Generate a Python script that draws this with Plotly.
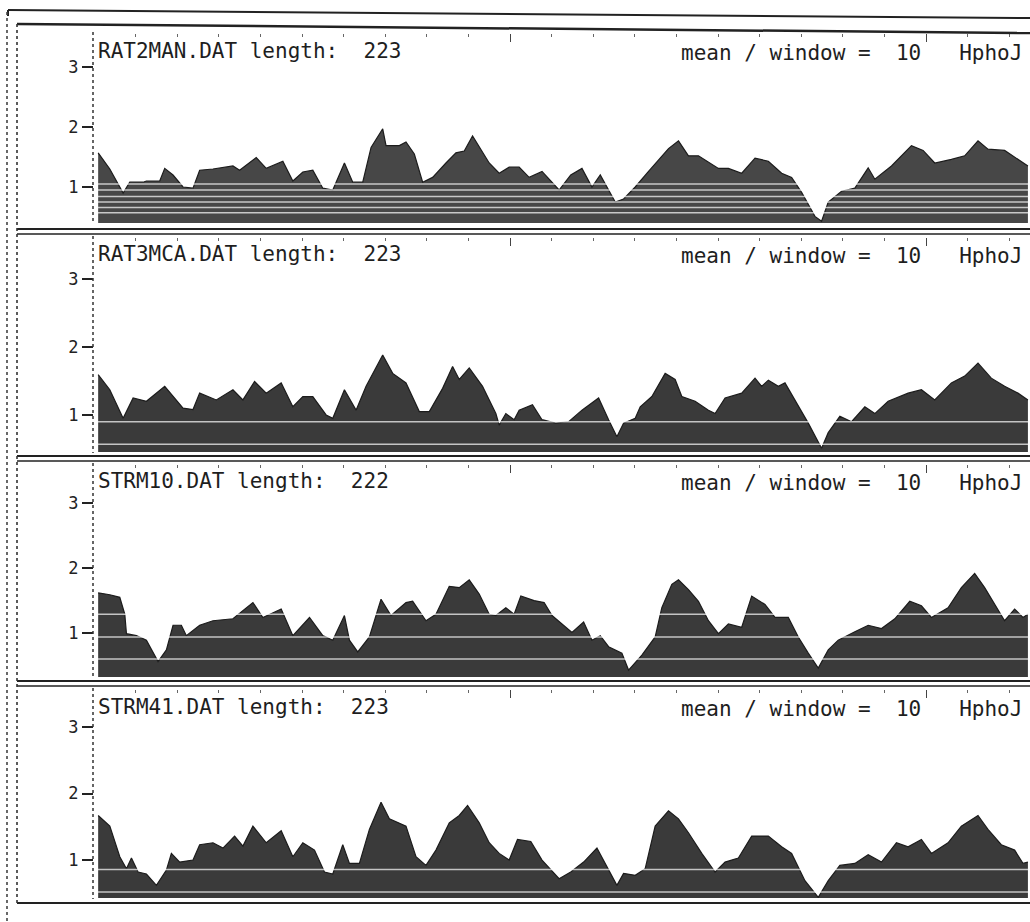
import plotly.graph_objects as go

# ---------------- data (residue position, mean hydrophobicity, window = 10) -------------
names = ["RAT2MAN.DAT", "RAT3MCA.DAT", "STRM10.DAT", "STRM41.DAT"]
lengths = [223, 223, 222, 223]

pos_rat2man = [1, 3.8, 7.0, 8.6, 11.8, 12.6, 15.8, 17.0, 19.0, 21.4, 23.8, 25.4, 28.6, 33.4, 35.0,
               39.0, 41.4, 45.4, 47.8, 50.2, 52.6, 55.0, 57.4, 60.2, 62.2, 64.6, 66.6, 69.4, 70.2,
               73.4, 75.0, 77.0, 79.0, 81.4, 84.6, 87.0, 89.0, 91.0, 95.0, 97.4, 99.8, 102.2,
               104.6, 107.7, 111.8, 114.6, 117.3, 119.7, 121.7, 123.7, 125.3, 127.3, 130.1, 133.3,
               136.5, 138.1, 140.5, 142.9, 145.3, 150.1, 152.5, 155.7, 158.9, 162.1, 165.3, 167.7,
               170.1, 173.3, 174.9, 176.5, 179.7, 182.9, 186.1, 187.7, 191.7, 196.5, 199.3, 202.1,
               206.1, 209.3, 212.5, 214.9, 218.9, 222.1, 224.5]
val_rat2man = [1.57, 1.30, 0.90, 1.08, 1.08, 1.10, 1.10, 1.31, 1.20, 1.00, 0.98, 1.28, 1.30, 1.35, 1.28,
               1.49, 1.31, 1.43, 1.10, 1.25, 1.28, 0.98, 0.95, 1.40, 1.08, 1.08, 1.66, 1.97, 1.69,
               1.69, 1.75, 1.55, 1.08, 1.16, 1.40, 1.57, 1.60, 1.85, 1.40, 1.23, 1.33, 1.33,
               1.16, 1.26, 0.95, 1.20, 1.31, 1.00, 1.20, 0.95, 0.75, 0.80, 1.00, 1.26,
               1.52, 1.64, 1.77, 1.52, 1.52, 1.31, 1.31, 1.23, 1.48, 1.43, 1.23, 1.16,
               0.91, 0.51, 0.43, 0.75, 0.93, 0.98, 1.32, 1.13, 1.35, 1.69, 1.61, 1.40,
               1.46, 1.52, 1.77, 1.63, 1.61, 1.46, 1.35]

pos_rat3mca = [1, 3.8, 7.0, 9.4, 12.6, 17.0, 21.4, 23.8, 25.4, 29.4, 33.4, 35.8, 38.6, 41.4, 45.0,
               47.8, 50.2, 52.6, 55.8, 57.4, 60.2, 63.0, 65.4, 69.4, 71.8, 75.0, 78.2, 80.6, 83.8,
               86.2, 87.8, 90.2, 93.4, 96.6, 97.4, 99.0, 101.0, 102.2, 105.4, 107.7, 111.0, 114.1,
               117.3, 121.3, 123.7, 125.7, 127.3, 130.1, 131.3, 134.1, 137.3, 139.7, 141.3, 144.5,
               147.7, 149.3, 151.7, 155.7, 158.9, 160.5, 162.1, 164.5, 166.1, 168.5, 171.7, 174.9,
               176.5, 179.3, 182.1, 185.3, 187.7, 190.9, 195.7, 198.9, 202.1, 206.1, 209.3, 212.5,
               215.7, 218.9, 222.1, 224.5]
val_rat3mca = [1.59, 1.37, 0.95, 1.25, 1.20, 1.42, 1.10, 1.08, 1.32, 1.22, 1.37, 1.22, 1.49, 1.32, 1.47,
               1.12, 1.27, 1.27, 1.00, 0.95, 1.37, 1.07, 1.42, 1.88, 1.61, 1.47, 1.05, 1.05, 1.39,
               1.71, 1.52, 1.69, 1.42, 1.02, 0.85, 1.02, 0.93, 1.07, 1.15, 0.93, 0.88, 0.90,
               1.07, 1.25, 0.93, 0.68, 0.88, 0.95, 1.12, 1.27, 1.61, 1.52, 1.27, 1.20,
               1.07, 1.02, 1.25, 1.32, 1.54, 1.42, 1.51, 1.42, 1.47, 1.22, 0.88, 0.51,
               0.74, 0.98, 0.90, 1.12, 1.02, 1.20, 1.32, 1.37, 1.22, 1.47, 1.57, 1.76,
               1.54, 1.42, 1.32, 1.22]

pos_strm10 = [1, 3.8, 6.2, 7.4, 7.8, 10.2, 12.6, 15.4, 17.4, 19.0, 21.0, 22.2, 25.4, 28.6, 33.4,
              38.2, 40.6, 45.0, 47.8, 51.8, 55.0, 57.4, 60.2, 61.4, 63.4, 66.2, 69.0, 71.4, 75.0,
              76.6, 79.8, 82.2, 85.4, 87.8, 90.2, 92.6, 95.0, 96.6, 99.0, 101.0, 102.6, 105.8,
              108.2, 110.1, 112.5, 114.9, 117.7, 119.7, 121.7, 123.7, 126.9, 128.5, 131.7, 134.9,
              136.5, 138.9, 140.5, 142.9, 145.3, 147.7, 150.1, 152.5, 155.7, 158.1, 161.3, 163.7,
              166.9, 169.3, 171.7, 174.1, 176.5, 178.9, 182.9, 186.1, 189.3, 192.5, 196.1, 198.9,
              201.3, 205.3, 208.5, 211.7, 214.1, 216.5, 218.9, 221.3, 223.3, 224.5]
val_strm10 = [1.62, 1.59, 1.55, 1.29, 0.99, 0.96, 0.89, 0.56, 0.74, 1.12, 1.12, 0.96, 1.12, 1.19, 1.22,
              1.47, 1.24, 1.37, 0.96, 1.24, 0.96, 0.89, 1.27, 0.89, 0.71, 0.94, 1.52, 1.27, 1.47,
              1.49, 1.19, 1.29, 1.72, 1.70, 1.82, 1.60, 1.29, 1.27, 1.39, 1.29, 1.57, 1.50,
              1.47, 1.27, 1.14, 1.01, 1.17, 0.89, 0.96, 0.79, 0.69, 0.43, 0.66, 0.94,
              1.39, 1.75, 1.82, 1.67, 1.49, 1.19, 0.99, 1.14, 1.09, 1.57, 1.44, 1.24,
              1.24, 0.94, 0.69, 0.46, 0.74, 0.89, 1.02, 1.12, 1.07, 1.22, 1.49, 1.42,
              1.24, 1.39, 1.70, 1.92, 1.70, 1.44, 1.19, 1.37, 1.24, 1.29]

pos_strm41 = [1, 3.8, 6.2, 7.8, 9.0, 10.6, 12.6, 15.0, 17.4, 18.6, 20.6, 23.8, 25.4, 28.6, 31.0,
              33.8, 35.8, 38.2, 41.4, 45.0, 47.8, 50.2, 53.0, 55.4, 57.4, 59.8, 61.4, 63.8, 66.2,
              69.0, 71.0, 75.0, 77.4, 79.8, 82.2, 85.4, 87.8, 89.8, 92.6, 95.0, 97.4, 99.8, 101.8,
              105.0, 107.7, 111.8, 114.6, 117.7, 120.9, 123.7, 125.7, 127.3, 130.1, 132.5, 134.9,
              138.1, 140.5, 142.9, 146.1, 149.3, 151.7, 154.9, 158.1, 162.1, 165.3, 167.7, 170.9,
              174.1, 176.5, 179.3, 182.9, 186.1, 189.3, 192.9, 195.7, 198.9, 201.3, 205.3, 208.5,
              212.5, 214.9, 218.1, 221.3, 223.3, 224.5]
val_strm41 = [1.67, 1.51, 1.05, 0.87, 1.03, 0.82, 0.79, 0.62, 0.85, 1.10, 0.97, 1.00, 1.23, 1.26, 1.18,
              1.36, 1.21, 1.51, 1.26, 1.44, 1.05, 1.26, 1.15, 0.82, 0.79, 1.23, 0.95, 0.95, 1.46,
              1.87, 1.62, 1.51, 1.05, 0.92, 1.15, 1.56, 1.67, 1.82, 1.56, 1.26, 1.10, 1.00, 1.31,
              1.28, 1.00, 0.72, 0.82, 0.97, 1.18, 0.85, 0.62, 0.80, 0.77, 0.87, 1.51,
              1.74, 1.62, 1.41, 1.10, 0.82, 0.97, 1.03, 1.36, 1.36, 1.20, 1.10, 0.69,
              0.44, 0.69, 0.92, 0.95, 1.08, 0.97, 1.26, 1.20, 1.31, 1.10, 1.26, 1.51,
              1.67, 1.46, 1.23, 1.15, 0.95, 0.97]

positions = [pos_rat2man, pos_rat3mca, pos_strm10, pos_strm41]
values = [val_rat2man, val_rat3mca, val_strm10, val_strm41]
y_ticks = [1, 2, 3]
window = 10
scale_name = "HphoJ"

# ---------------- layout helpers (pixels of the 1030 x 922 page) ----------------
W, H = 1030, 922
def px(x):
    return x / W
def py(y):
    return 1 - y / H

panel_px = [(40, 223), (248, 452), (474, 677), (697, 898)]
y_low = [0.40, 0.456, 0.323, 0.43]
y_high = 3.45
label_row = [51, 254, 481, 707]
top_border = [29, 233, 460, 685]
fills = ["#474747", "#3a3a3a", "#3a3a3a", "#3a3a3a"]
streaks = [[0.57, 0.66, 0.75, 0.84, 0.95, 1.05], [0.57, 0.90], [0.60, 0.94, 1.29], [0.52, 0.86]]

fig = go.Figure()
shapes = []
annotations = []
mono = "DejaVu Sans Mono"

for i in range(4):
    xa = "x" if i == 0 else f"x{i+1}"
    ya = "y" if i == 0 else f"y{i+1}"
    fig.add_trace(go.Scatter(
        x=positions[i], y=values[i], mode="lines", fill="tozeroy",
        line=dict(color="#1c1c1c", width=1.2), fillcolor=fills[i],
        xaxis=xa, yaxis=ya, showlegend=False, hoverinfo="skip"))
    t, b = panel_px[i]
    xkey = "xaxis" if i == 0 else f"xaxis{i+1}"
    ykey = "yaxis" if i == 0 else f"yaxis{i+1}"
    fig.update_layout({
        xkey: dict(domain=[px(94), 1], range=[0, 225], anchor="free",
                   position=py(top_border[i] + 4), side="top",
                   showgrid=False, zeroline=False, showline=False,
                   showticklabels=False, ticks="inside", tickmode="linear",
                   tick0=0, dtick=100, ticklen=8, tickwidth=1.3, tickcolor="#444",
                   minor=dict(ticks="inside", dtick=10, tick0=0, ticklen=3,
                              tickwidth=1.3, tickcolor="#666"),
                   fixedrange=True),
        ykey: dict(domain=[py(b), py(t)], range=[y_low[i], y_high], anchor=xa,
                   showgrid=False, zeroline=False, showline=False,
                   tickvals=y_ticks, ticks="outside", ticklen=11, tickwidth=1.5,
                   tickcolor="#222", tickfont=dict(family=mono, size=17, color="#222"),
                   fixedrange=True),
    })
    for s in streaks[i]:
        shapes.append(dict(type="line", xref=xa, yref=ya, x0=0.3, x1=225, y0=s, y1=s,
                           line=dict(color="rgba(255,255,255,0.7)", width=1.5), layer="above"))
    shapes.append(dict(type="line", xref="paper", yref="paper", x0=px(93), x1=px(93),
                       y0=py(top_border[i] + 3), y1=py(b + 1),
                       line=dict(color="#333", width=1.5, dash="dot")))
    label = f"{names[i]} length:\u00a0\u00a0{lengths[i]}"
    annotations.append(dict(x=px(96), y=py(label_row[i]), xref="paper", yref="paper",
                            text=label, showarrow=False, xanchor="left", yanchor="middle",
                            font=dict(family=mono, size=21, color="#1e1e1e")))
    right = f"mean / window =\u00a0\u00a0{window}\u00a0\u00a0\u00a0{scale_name}"
    annotations.append(dict(x=px(1024), y=py(label_row[i] + 2), xref="paper", yref="paper",
                            text=right, showarrow=False, xanchor="right", yanchor="middle",
                            font=dict(family=mono, size=21, color="#1e1e1e")))

def pline(x0, y0, x1, y1, w=2.0, dash="solid", color="#222"):
    shapes.append(dict(type="line", xref="paper", yref="paper", x0=px(x0), y0=py(y0),
                       x1=px(x1), y1=py(y1), line=dict(color=color, width=w, dash=dash)))

pline(8, 10, 1030, 18, 2)
pline(8, 10, 8, 16, 2)
pline(17, 24, 1030, 33, 2.5)
for a, bb in [(229, 234), (456, 461), (681, 686)]:
    pline(17, a, 1030, a, 2.2)
    pline(17, bb, 1030, bb, 1.6)
pline(17, 903, 1030, 903, 2.2)
pline(17, 24, 17, 903, 1.6, "dot", "#333")
pline(7, 12, 7, 922, 1.6, "dot", "#444")

fig.update_layout(width=W, height=H, margin=dict(l=0, r=0, t=0, b=0),
                  paper_bgcolor="white", plot_bgcolor="rgba(0,0,0,0)",
                  shapes=shapes, annotations=annotations, showlegend=False)

fig.write_html("out.html", config={"displayModeBar": False},
               post_script="document.body.style.margin='0';")
